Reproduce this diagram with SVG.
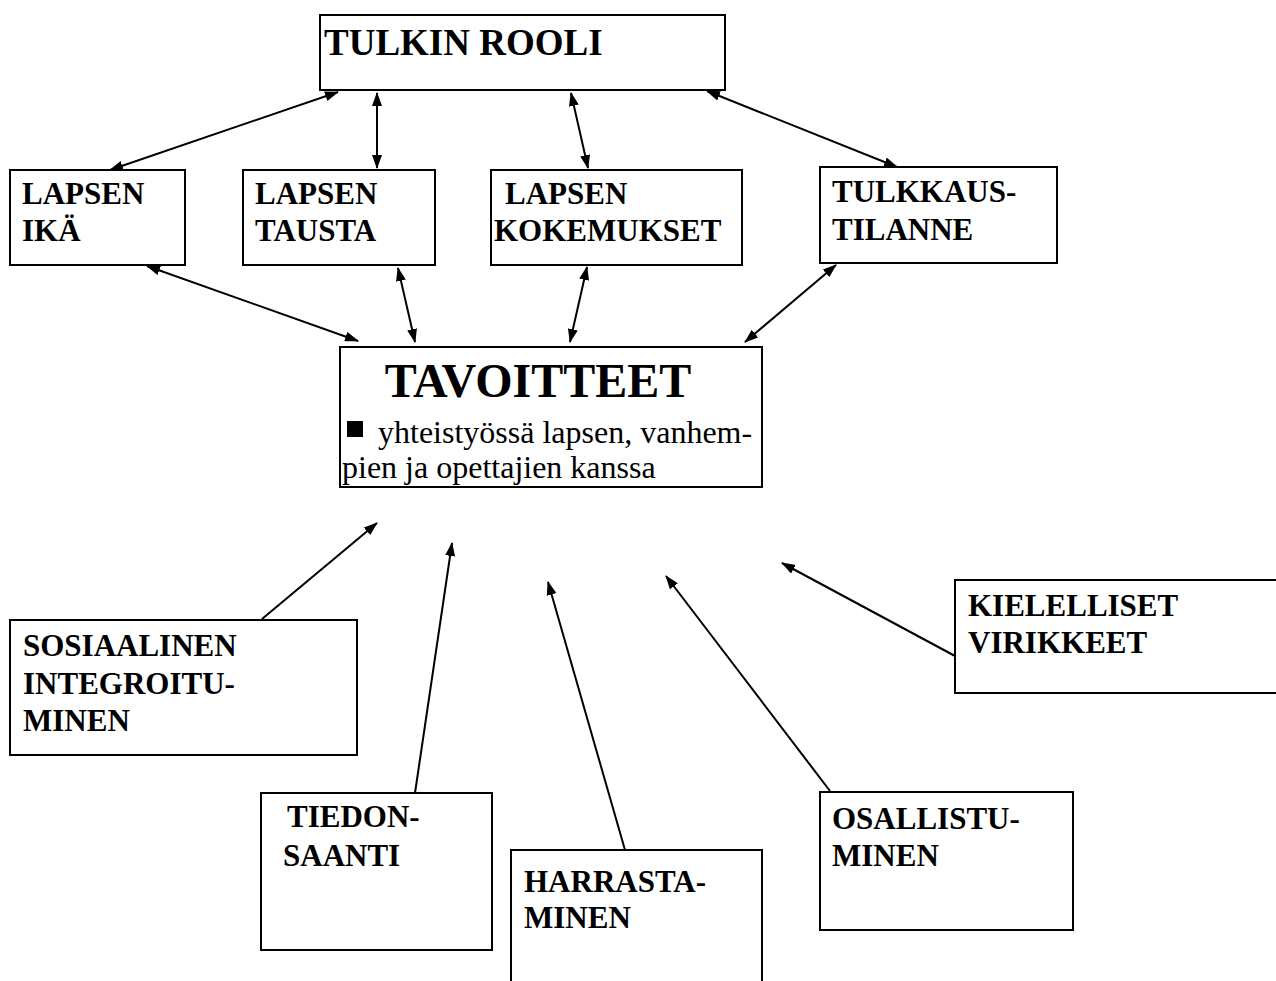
<svg xmlns="http://www.w3.org/2000/svg" width="1276" height="981" viewBox="0 0 1276 981">
<style>
.box{fill:#fff;stroke:#000;stroke-width:2}
.lbl{font-family:"Liberation Serif","Times New Roman",serif;font-weight:bold;font-size:31px;fill:#000}
.title{font-family:"Liberation Serif","Times New Roman",serif;font-weight:bold;font-size:37px;fill:#000}
.big{font-family:"Liberation Serif","Times New Roman",serif;font-weight:bold;font-size:48px;fill:#000}
.body{font-family:"Liberation Serif","Times New Roman",serif;font-size:32px;fill:#000}
.con{stroke:#000;stroke-width:2;fill:none}
</style>
<defs>
<marker id="ah" markerUnits="userSpaceOnUse" markerWidth="14" markerHeight="10" refX="13" refY="5" orient="auto-start-reverse">
<path d="M0,0 L14,5 L0,10 z" fill="#000"/>
</marker>
</defs>
<rect width="1276" height="981" fill="#fff"/>
<g id="connectors">
<line class="con" x1="338" y1="92" x2="110" y2="170" marker-start="url(#ah)" marker-end="url(#ah)"/>
<line class="con" x1="377" y1="93" x2="377" y2="168" marker-start="url(#ah)" marker-end="url(#ah)"/>
<line class="con" x1="571" y1="93" x2="588" y2="168" marker-start="url(#ah)" marker-end="url(#ah)"/>
<line class="con" x1="707" y1="91" x2="897" y2="167" marker-start="url(#ah)" marker-end="url(#ah)"/>
<line class="con" x1="147" y1="266" x2="358" y2="341" marker-start="url(#ah)" marker-end="url(#ah)"/>
<line class="con" x1="398" y1="268" x2="415" y2="342" marker-start="url(#ah)" marker-end="url(#ah)"/>
<line class="con" x1="587" y1="267" x2="570" y2="342" marker-start="url(#ah)" marker-end="url(#ah)"/>
<line class="con" x1="836" y1="265" x2="745" y2="342" marker-start="url(#ah)" marker-end="url(#ah)"/>
<line class="con" x1="262" y1="619" x2="377" y2="523" marker-end="url(#ah)"/>
<line class="con" x1="415" y1="793" x2="452" y2="543" marker-end="url(#ah)"/>
<line class="con" x1="625" y1="850" x2="548" y2="582" marker-end="url(#ah)"/>
<line class="con" x1="830" y1="791" x2="666" y2="576" marker-end="url(#ah)"/>
<line class="con" x1="955" y1="656" x2="782" y2="563" marker-end="url(#ah)"/>
</g>
<g id="tulkin-rooli">
<rect class="box" x="320" y="15" width="405" height="75"/>
<text class="title" x="324" y="55">TULKIN ROOLI</text>
</g>
<g id="lapsen-ika">
<rect class="box" x="10" y="170" width="175" height="95"/>
<text class="lbl" x="22" y="204">LAPSEN</text>
<text class="lbl" x="22" y="241">IKÄ</text>
</g>
<g id="lapsen-tausta">
<rect class="box" x="243" y="170" width="192" height="95"/>
<text class="lbl" x="255" y="204">LAPSEN</text>
<text class="lbl" x="255" y="241">TAUSTA</text>
</g>
<g id="lapsen-kokemukset">
<rect class="box" x="491" y="170" width="251" height="95"/>
<text class="lbl" x="505" y="204">LAPSEN</text>
<text class="lbl" x="494" y="241">KOKEMUKSET</text>
</g>
<g id="tulkkaustilanne">
<rect class="box" x="820" y="167" width="237" height="96"/>
<text class="lbl" x="832" y="202">TULKKAUS-</text>
<text class="lbl" x="832" y="240">TILANNE</text>
</g>
<g id="tavoitteet">
<rect class="box" x="340" y="347" width="422" height="140"/>
<text class="big" x="538" y="397" text-anchor="middle">TAVOITTEET</text>
<rect x="347" y="421" width="16" height="16" fill="#000"/>
<text class="body" x="378" y="443">yhteistyössä lapsen, vanhem-</text>
<text class="body" x="342" y="478">pien ja opettajien kanssa</text>
</g>
<g id="sosiaalinen">
<rect class="box" x="10" y="620" width="347" height="135"/>
<text class="lbl" x="23" y="656">SOSIAALINEN</text>
<text class="lbl" x="23" y="694">INTEGROITU-</text>
<text class="lbl" x="23" y="731">MINEN</text>
</g>
<g id="tiedonsaanti">
<rect class="box" x="261" y="793" width="231" height="157"/>
<text class="lbl" x="287" y="827">TIEDON-</text>
<text class="lbl" x="283" y="866">SAANTI</text>
</g>
<g id="harrastaminen">
<rect class="box" x="511" y="850" width="251" height="160"/>
<text class="lbl" x="524" y="892">HARRASTA-</text>
<text class="lbl" x="524" y="928">MINEN</text>
</g>
<g id="osallistuminen">
<rect class="box" x="820" y="792" width="253" height="138"/>
<text class="lbl" x="832" y="829">OSALLISTU-</text>
<text class="lbl" x="832" y="866">MINEN</text>
</g>
<g id="kielelliset">
<rect class="box" x="955" y="580" width="360" height="113"/>
<text class="lbl" x="968" y="616">KIELELLISET</text>
<text class="lbl" x="968" y="653">VIRIKKEET</text>
</g>
</svg>
